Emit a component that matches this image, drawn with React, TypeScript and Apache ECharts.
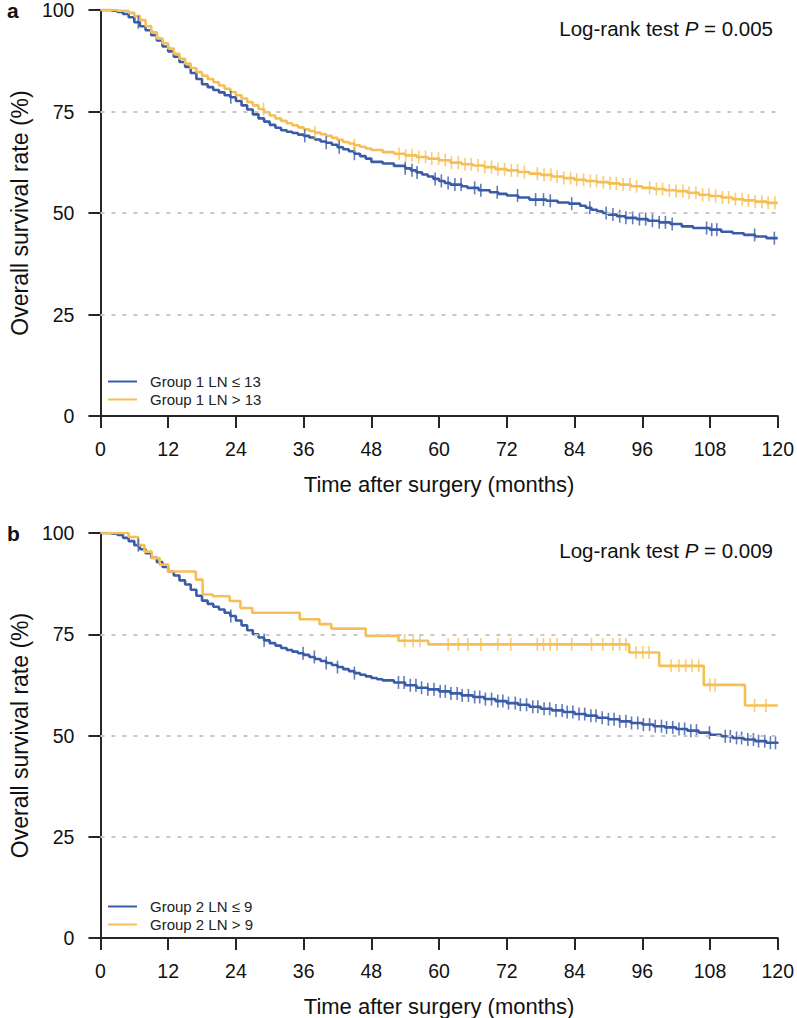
import React, { useEffect, useRef } from "react";
import * as echarts from "echarts";

const xTicks = [0, 12, 24, 36, 48, 60, 72, 84, 96, 108, 120];
const yTicks = [0, 25, 50, 75, 100];

const nameA1 = "Group 1 LN \u2264 13";
const nameA2 = "Group 1 LN > 13";
const nameB1 = "Group 2 LN \u2264 9";
const nameB2 = "Group 2 LN > 9";

const pValueA = "0.005";
const pValueB = "0.009";

// Kaplan-Meier steps: [time (months), survival (%)]
const stepsA1: number[][] = [
  [0, 100], [2, 99.8], [3, 99.5], [4, 99], [5, 98.2], [6, 97], [7, 96], [8, 95], [9, 93.8], [10, 92.5],
  [11, 91], [12, 89.8], [13, 88.5], [14, 87.2], [15, 86], [16, 84.5], [17, 83], [18, 81.7], [19, 81],
  [20, 80.3], [21, 79.7], [22, 79], [23, 78.5], [24, 77.6], [25, 76.5], [26, 75.5], [27, 74.3], [28, 73.3],
  [29, 72.5], [30, 71.7], [31, 71], [32, 70.4], [33, 70], [34, 69.7], [35, 69.3], [36, 69], [37, 68.6],
  [38, 68.1], [39, 67.6], [40, 67.3], [41, 66.8], [42, 66.2], [43, 65.7], [44, 65.2], [45, 64.6],
  [46, 64], [47, 63.4], [48, 62.6], [50, 62.2], [52, 61.6], [54, 61], [55, 60.5], [56, 60], [57, 59.5],
  [58, 59], [59, 58.4], [60, 57.9], [61, 57.4], [62, 57], [64, 56.6], [65, 56.2], [67, 55.6], [69, 55.1],
  [70.5, 54.7], [72, 54.3], [74, 53.8], [76, 53.3], [79, 53], [81, 52.6], [83, 52.3], [85, 51.8],
  [86, 51.3], [87, 50.8], [88, 50.4], [89, 50], [90, 49.6], [91.5, 49.2], [93, 48.8], [95, 48.5],
  [97, 48.1], [99, 47.7], [101, 47.3], [103, 46.7], [105, 46.3], [108, 45.9], [110, 45.4], [112, 45],
  [114, 44.6], [116, 44.2], [118, 43.8], [120, 43.8],
];
const stepsA2: number[][] = [
  [0, 100], [3, 99.8], [5, 99.3], [6, 98.5], [7, 97.5], [8, 96], [9, 94.5], [10, 93], [11, 91.8],
  [12, 90.5], [13, 89.2], [14, 88], [15, 86.8], [16, 85.7], [17, 84.7], [18, 83.8], [19, 83], [20, 82.2],
  [21, 81.4], [22, 80.6], [23, 79.8], [24, 79], [25, 78.2], [26, 77.3], [27, 76.5], [28, 75.6], [29, 74.8],
  [30, 74], [31, 73.3], [32, 72.7], [33, 72.1], [34, 71.6], [35, 71.1], [36, 70.6], [37, 70.2], [38, 69.8],
  [39, 69.4], [40, 69], [41, 68.5], [42, 68], [43, 67.5], [44, 67.1], [45, 66.7], [46, 66.3], [47, 65.9],
  [48, 65.5], [50, 65], [52, 64.6], [54, 64.2], [56, 63.8], [58, 63.4], [60, 63], [62, 62.4], [64, 62],
  [66, 61.7], [68, 61.3], [70, 60.8], [72, 60.5], [74, 60.1], [76, 59.7], [78, 59.4], [80, 59], [82, 58.6],
  [84, 58.2], [86, 57.9], [88, 57.6], [90, 57.3], [92, 57], [94, 56.6], [96, 56.2], [98, 55.9], [100, 55.6],
  [102, 55.4], [104, 55], [106, 54.5], [108, 54.2], [110, 53.8], [112, 53.4], [114, 53.1], [116, 52.8],
  [118, 52.5], [120, 52.5],
];
const stepsB1: number[][] = [
  [0, 100], [2, 99.8], [3, 99.5], [4, 98.8], [5, 98], [6, 97], [7, 96], [8, 95], [9, 93.9], [10, 92.8],
  [11, 91.6], [12, 90.5], [13, 89.5], [14, 88.3], [15, 87.3], [16, 86], [17, 84.5], [18, 83.3], [19, 82.5],
  [20, 81.8], [21, 81.1], [22, 80.3], [23, 79.5], [24, 78.4], [25, 77.2], [26, 76], [27, 75], [28, 74.2],
  [29, 73.5], [30, 72.8], [31, 72.2], [32, 71.6], [33, 71.1], [34, 70.7], [35, 70.3], [36, 69.9], [37, 69.4],
  [38, 68.9], [39, 68.4], [40, 67.9], [41, 67.4], [42, 66.9], [43, 66.4], [44, 65.9], [45, 65.4], [46, 65],
  [47, 64.6], [48, 64.2], [49, 63.9], [50, 63.6], [52, 63.1], [54, 62.4], [56, 61.8], [58, 61.4], [60, 60.9],
  [62, 60.4], [64, 59.9], [66, 59.5], [68, 59], [70, 58.5], [72, 58], [74, 57.6], [76, 57.1], [78, 56.6],
  [80, 56.2], [82, 55.8], [84, 55.3], [86, 54.9], [88, 54.4], [90, 54], [92, 53.5], [94, 53.1], [96, 52.7],
  [98, 52.3], [100, 52], [102, 51.6], [104, 51.2], [106, 50.7], [108, 50.2], [110, 49.8], [112, 49.4],
  [114, 49], [116, 48.6], [118, 48.2], [120, 48],
];
const stepsB2: number[][] = [
  [0, 100], [5, 99], [6.7, 97], [7.8, 95.4], [9.1, 93.8], [10.5, 92.2], [12, 90.5], [16.9, 88.5],
  [18.1, 84.8], [19.9, 84.4], [22.9, 83.2], [24.8, 81.5], [26.9, 80.3], [35.3, 78.7], [38.8, 77.5],
  [40.9, 76.4], [47, 74.6], [52.8, 73.4], [58.1, 72.5], [93.7, 70.5], [99, 67.2], [106.9, 62.5],
  [114.2, 57.4], [120, 57.4],
];

// Censoring times (months)
const censorA1 = [
  6.7, 23.1, 36.2, 40, 42.3, 45, 54, 55.2, 56.1, 59.3, 60.4, 61.6, 62.8, 63.9, 66.3, 67.4, 70.3, 73.9,
  77.1, 78.5, 79.7, 83.5, 86.7, 89.6, 90.8, 92, 93.1, 94.3, 95.5, 96.6, 97.8, 99, 100.1, 101.3, 107.4,
  108.3, 109.2, 115.9, 119.4,
];
const censorA2 = [
  28.9, 38, 45, 52.9, 54.1, 55.2, 56.4, 57.6, 58.7, 59.9, 61.1, 62.2, 63.4, 64.6, 65.7, 66.9, 68.1, 69.3,
  70.4, 71.6, 72.8, 73.9, 75.1, 77.4, 78.6, 79.8, 80.9, 82.1, 83.3, 84.4, 85.6, 86.8, 87.9, 89.1, 90.3,
  91.4, 92.6, 93.8, 95, 97.3, 98.5, 99.6, 100.8, 102, 103.2, 104.3, 105.5, 106.7, 107.8, 109, 110.2,
  111.3, 112.5, 113.7, 114.8, 116, 117.2, 118.3, 119.5,
];
const censorB1 = [
  6.7, 23.1, 29, 35.9, 37.9, 40, 42, 45, 52.8, 53.8, 54.9, 55.9, 56.9, 58, 59.1, 60.2, 61.1, 62.1, 63.2,
  64.1, 65.2, 66.3, 67.2, 68.2, 69.3, 70.4, 71.3, 72.3, 73.5, 74.4, 75.5, 76.6, 77.5, 78.6, 79.6, 80.7,
  81.8, 82.7, 83.7, 84.8, 85.8, 86.9, 87.8, 88.9, 90, 91, 92, 93.1, 94.1, 95.2, 96.2, 97.3, 98.3, 99.4,
  100.3, 101.4, 102.5, 103.5, 104.6, 105.6, 107.9, 110.7, 111.6, 112.7, 113.6, 114.7, 115.7, 116.6,
  117.7, 118.7, 119.6,
];
const censorB2 = [
  53.9, 55.4, 56.6, 61.6, 63.4, 65.1, 67.4, 70.4, 72.7, 77.4, 78.5, 79.7, 80.9, 83.5, 87, 89, 90.8, 92,
  93.1, 94.9, 96.1, 97.2, 101.1, 102.5, 103.7, 104.8, 106, 108, 108.9, 115.9, 117.9,
];

const BLUE = "#3A5BA8";
const YELLOW = "#F6BF55";
const AXIS = "#262626";
const FONT = "Liberation Sans, Arial, sans-serif";

function survivalAt(steps: number[][], t: number): number {
  let v = steps[0][1];
  for (const [time, s] of steps) {
    if (time <= t) v = s;
    else break;
  }
  return v;
}

function censorPoints(steps: number[][], times: number[]) {
  return times.map((t) => [t, survivalAt(steps, t)]);
}

export default function App() {
  const ref = useRef<HTMLDivElement>(null);

  useEffect(() => {
    if (!ref.current) return;
    const chart = echarts.init(ref.current, null, { renderer: "svg" });

    const grids = [
      { left: 95, right: 17, top: 8, height: 408 },
      { left: 95, right: 17, top: 533, height: 408 },
    ];

    const xAxisFor = (gridIndex: number) => ({
      type: "value",
      gridIndex,
      min: xTicks[0],
      max: xTicks[xTicks.length - 1],
      interval: 12,
      name: "Time after surgery (months)",
      nameLocation: "middle",
      nameGap: 57,
      nameTextStyle: { fontSize: 22, color: "#111", fontFamily: FONT },
      axisLine: { show: true, lineStyle: { color: AXIS, width: 2 } },
      axisTick: { show: true, inside: false, length: 12, lineStyle: { color: AXIS, width: 2 } },
      axisLabel: { fontSize: 19.5, color: "#111", margin: 23, fontFamily: FONT },
      splitLine: { show: false },
    });
    const yAxisFor = (gridIndex: number) => ({
      type: "value",
      gridIndex,
      min: yTicks[0],
      max: yTicks[yTicks.length - 1],
      interval: 25,
      name: "Overall survival rate (%)",
      nameLocation: "middle",
      nameGap: 66,
      nameTextStyle: { fontSize: 23, color: "#111", fontFamily: FONT },
      axisLine: { show: true, lineStyle: { color: AXIS, width: 2 } },
      axisTick: { show: true, inside: false, length: 12, lineStyle: { color: AXIS, width: 2 } },
      axisLabel: { fontSize: 19.5, color: "#111", margin: 26, fontFamily: FONT },
      splitLine: { show: false },
    });

    const gridMark = {
      silent: true,
      symbol: "none",
      label: { show: false },
      lineStyle: { color: "#c8c8c8", type: [4, 7], width: 2 },
      data: yTicks.filter((v) => v > 0 && v < 100).map((v) => ({ yAxis: v })),
    };

    const lineSeries = (name: string, steps: number[][], color: string, idx: number, withGrid: boolean) => ({
      name,
      type: "line",
      xAxisIndex: idx,
      yAxisIndex: idx,
      step: "end",
      data: steps,
      showSymbol: false,
      symbol: "none",
      lineStyle: { color, width: 2.6 },
      itemStyle: { color },
      z: 3,
      markLine: withGrid ? gridMark : undefined,
    });
    const censorSeries = (id: string, steps: number[][], times: number[], color: string, idx: number) => ({
      name: id,
      type: "scatter",
      xAxisIndex: idx,
      yAxisIndex: idx,
      data: censorPoints(steps, times),
      symbol: "rect",
      symbolSize: [1.6, 13],
      itemStyle: { color },
      z: 4,
    });

    const legendFor = (top: number, names: string[]) => ({
      left: 103,
      top,
      orient: "vertical",
      itemWidth: 29,
      itemHeight: 2,
      itemGap: 3,
      icon: "rect",
      data: names,
      selectedMode: false,
      textStyle: { fontSize: 15, color: "#222", fontFamily: FONT, padding: [0, 0, 0, 8] },
    });

    const pText = (y: number, p: string) => ({
      type: "text",
      right: 24,
      top: y,
      style: {
        text: "{n|Log-rank test }{i|P}{n| = " + p + "}",
        rich: {
          n: { fontSize: 20.5, fill: "#111", fontFamily: FONT },
          i: { fontSize: 20.5, fill: "#111", fontFamily: FONT, fontStyle: "italic" },
        },
      },
    });

    chart.setOption({
      animation: false,
      backgroundColor: "#fff",
      grid: grids,
      xAxis: [xAxisFor(0), xAxisFor(1)],
      yAxis: [yAxisFor(0), yAxisFor(1)],
      legend: [legendFor(369, [nameA1, nameA2]), legendFor(894, [nameB1, nameB2])],
      series: [
        lineSeries(nameA1, stepsA1, BLUE, 0, true),
        lineSeries(nameA2, stepsA2, YELLOW, 0, false),
        censorSeries("censorA1", stepsA1, censorA1, BLUE, 0),
        censorSeries("censorA2", stepsA2, censorA2, YELLOW, 0),
        lineSeries(nameB1, stepsB1, BLUE, 1, true),
        lineSeries(nameB2, stepsB2, YELLOW, 1, false),
        censorSeries("censorB1", stepsB1, censorB1, BLUE, 1),
        censorSeries("censorB2", stepsB2, censorB2, YELLOW, 1),
      ],
      graphic: [
        { type: "text", left: 7, top: 0, style: { text: "a", fontSize: 21, fontWeight: "bold", fill: "#111", fontFamily: FONT } },
        { type: "text", left: 7, top: 523, style: { text: "b", fontSize: 21, fontWeight: "bold", fill: "#111", fontFamily: FONT } },
        pText(18, pValueA),
        pText(540, pValueB),
      ],
    });

    return () => chart.dispose();
  }, []);

  return (
    <div
      ref={ref}
      style={{ position: "absolute", left: 0, top: 0, width: 797, height: 1018, background: "#fff" }}
    />
  );
}
